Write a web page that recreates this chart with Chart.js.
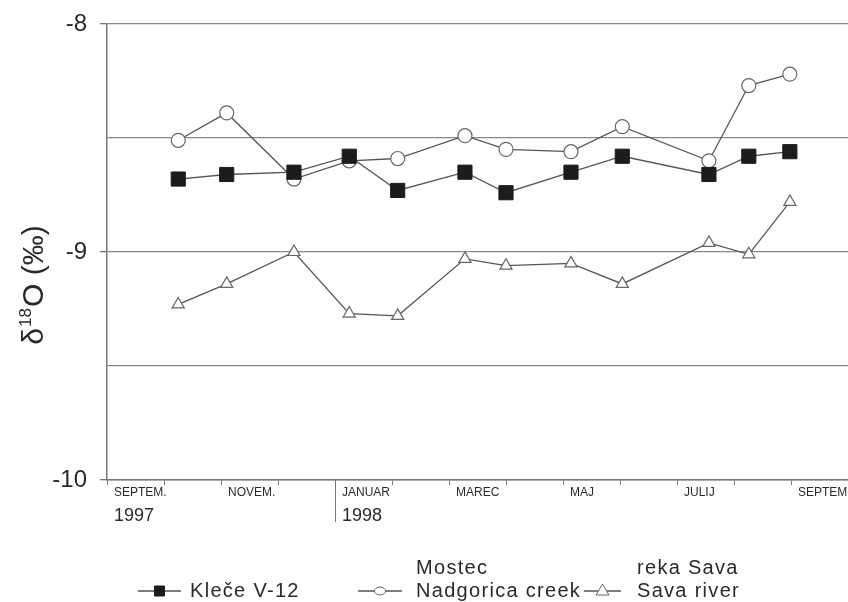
<!DOCTYPE html>
<html>
<head>
<meta charset="utf-8">
<script src="https://cdn.jsdelivr.net/npm/chart.js@4.4.1/dist/chart.umd.min.js"></script>
<style>
  html, body { margin: 0; padding: 0; background: #fff; }
  #wrap { width: 848px; height: 602px; position: relative; }
</style>
</head>
<body>
<div id="wrap"><canvas id="chart" width="848" height="602"></canvas></div>
<script>
// months counted from 1 Sep 1997
const sampleMonths = [1.25, 2.1, 3.28, 4.25, 5.1, 6.28, 7.0, 8.14, 9.04, 10.56, 11.26, 11.98];

const kleceV12  = [-8.68, -8.66, -8.65, -8.58, -8.73, -8.65, -8.74, -8.65, -8.58, -8.66, -8.58, -8.56];
const nadgorica = [-8.51, -8.39, -8.68, -8.60, -8.59, -8.49, -8.55, -8.56, -8.45, -8.60, -8.27, -8.22];
const savaRiver = [-9.23, -9.14, -9.00, -9.27, -9.28, -9.03, -9.06, -9.05, -9.14, -8.96, -9.01, -8.78];

const monthLabels = ['SEPTEM.', 'NOVEM.', 'JANUAR', 'MAREC', 'MAJ', 'JULIJ', 'SEPTEM.'];
const yearLabels = [{ at: 0, text: '1997' }, { at: 4, text: '1998' }];
const yTickLabels = [-8, -9, -10];

const legendItems = [
  { lines: ['Kleče V-12'], ds: 0 },
  { lines: ['Mostec', 'Nadgorica creek'], ds: 1 },
  { lines: ['reka Sava', 'Sava river'], ds: 2 }
];

const FONT = '"Liberation Sans", Arial, sans-serif';
const LINE = '#555';
const TEXT = '#2a2a2a';

const toPoints = vals => vals.map((y, i) => ({ x: sampleMonths[i], y }));

// draws the y title, year labels and the bottom legend
const extrasPlugin = {
  id: 'extras',
  afterDraw(chart) {
    const { ctx, scales } = chart;
    const x = scales.x;
    ctx.save();

    // year labels + year divider
    ctx.fillStyle = TEXT;
    ctx.font = '18px ' + FONT;
    ctx.textBaseline = 'middle';
    ctx.textAlign = 'left';
    yearLabels.forEach(y => {
      const px = x.getPixelForValue(y.at);
      ctx.fillText(y.text, px + 7, 516);
    });
    const divX = Math.round(x.getPixelForValue(yearLabels[1].at)) + 0.5;
    ctx.strokeStyle = '#777';
    ctx.lineWidth = 1;
    ctx.beginPath();
    ctx.moveTo(divX, x.top);
    ctx.lineTo(divX, 522);
    ctx.stroke();

    // y axis title: δ18O (‰)
    const big = '30px ' + FONT, small = '17px ' + FONT;
    ctx.font = big;
    const wD = ctx.measureText('δ').width;
    const wRest = ctx.measureText('O (‰)').width;
    ctx.font = small;
    const wSup = ctx.measureText('18').width;
    const total = wD + wSup + wRest + 2;
    ctx.translate(43, 285);
    ctx.rotate(-Math.PI / 2);
    ctx.textBaseline = 'alphabetic';
    let cx = -total / 2;
    ctx.font = big;
    ctx.fillText('δ', cx, 0);
    cx += wD + 1;
    ctx.font = small;
    ctx.fillText('18', cx, -12);
    cx += wSup + 1;
    ctx.font = big;
    ctx.fillText('O (‰)', cx, 0);
    ctx.setTransform(1, 0, 0, 1, 0, 0);

    // legend
    const slots = [
      { lineFrom: 138, lineTo: 181, textX: 190 },
      { lineFrom: 358, lineTo: 402, textX: 416 },
      { lineFrom: 584, lineTo: 621, textX: 637 }
    ];
    const my = 591;
    ctx.font = '20px ' + FONT;
    ctx.letterSpacing = '1.3px';
    legendItems.forEach((item, i) => {
      const s = slots[i];
      const ds = chart.data.datasets[item.ds];
      ctx.strokeStyle = LINE;
      ctx.lineWidth = 1.3;
      ctx.beginPath();
      ctx.moveTo(s.lineFrom, my);
      ctx.lineTo(s.lineTo, my);
      ctx.stroke();
      const mx = (s.lineFrom + s.lineTo) / 2;
      ctx.fillStyle = ds.pointBackgroundColor;
      ctx.strokeStyle = ds.pointBorderColor;
      ctx.lineWidth = 1;
      ctx.beginPath();
      if (ds.pointStyle === 'rect') {
        ctx.rect(mx - 5, my - 5, 10, 10);
      } else if (ds.pointStyle === 'circle') {
        ctx.ellipse(mx, my, 5.5, 4, 0, 0, Math.PI * 2);
      } else {
        ctx.moveTo(mx, my - 7);
        ctx.lineTo(mx + 6.5, my + 4);
        ctx.lineTo(mx - 6.5, my + 4);
        ctx.closePath();
      }
      ctx.fill();
      ctx.stroke();
      ctx.fillStyle = TEXT;
      ctx.textBaseline = 'middle';
      if (item.lines.length === 1) {
        ctx.fillText(item.lines[0], s.textX, my);
      } else {
        ctx.fillText(item.lines[0], s.textX, my - 23);
        ctx.fillText(item.lines[1], s.textX, my);
      }
    });
    ctx.restore();
  }
};

new Chart(document.getElementById('chart'), {
  type: 'line',
  data: {
    datasets: [
      {
        label: 'Kleče V-12',
        data: toPoints(kleceV12),
        borderColor: LINE,
        borderWidth: 1.3,
        pointStyle: 'rect',
        pointRadius: 10,
        pointBackgroundColor: '#1c1c1c',
        pointBorderColor: '#1c1c1c',
        pointBorderWidth: 1,
        tension: 0,
        fill: false
      },
      {
        label: 'Nadgorica creek',
        data: toPoints(nadgorica),
        borderColor: LINE,
        borderWidth: 1.3,
        pointStyle: 'circle',
        pointRadius: 7,
        pointBackgroundColor: '#fff',
        pointBorderColor: '#666',
        pointBorderWidth: 1.2,
        tension: 0,
        fill: false
      },
      {
        label: 'Sava river',
        data: toPoints(savaRiver),
        borderColor: LINE,
        borderWidth: 1.3,
        pointStyle: 'triangle',
        pointRadius: 7,
        pointBackgroundColor: '#fff',
        pointBorderColor: '#666',
        pointBorderWidth: 1.2,
        tension: 0,
        fill: false
      }
    ]
  },
  options: {
    responsive: false,
    animation: false,
    layout: { autoPadding: false, padding: { top: 24, right: 0, bottom: 0, left: 0 } },
    scales: {
      x: {
        type: 'linear',
        min: 0,
        max: 13,
        afterFit: s => { s.height = 122; s.paddingLeft = 0; s.paddingRight = 0; },
        border: { color: '#777', width: 1.5 },
        grid: { drawOnChartArea: false, tickLength: 5, color: '#777', lineWidth: 1 },
        ticks: {
          stepSize: 1,
          autoSkip: false,
          maxRotation: 0,
          align: 'start',
          labelOffset: 7,
          padding: 0,
          color: TEXT,
          font: { family: FONT, size: 12 },
          callback: v => (v % 2 === 0 && monthLabels[v / 2]) ? monthLabels[v / 2] : ''
        }
      },
      y: {
        min: -10,
        max: -8,
        afterFit: s => { s.width = 107; s.paddingTop = 0; s.paddingBottom = 0; },
        border: { color: '#777', width: 1.5 },
        grid: {
          color: '#888',
          lineWidth: 1.3,
          tickLength: 7,
          tickColor: c => yTickLabels.includes(c.tick.value) ? '#777' : 'rgba(0,0,0,0)'
        },
        ticks: {
          stepSize: 0.5,
          padding: 13,
          color: TEXT,
          font: { family: FONT, size: 24 },
          callback: v => yTickLabels.includes(v) ? String(v) : ''
        }
      }
    },
    plugins: { legend: { display: false }, tooltip: { enabled: false } }
  },
  plugins: [extrasPlugin]
});
</script>
</body>
</html>
